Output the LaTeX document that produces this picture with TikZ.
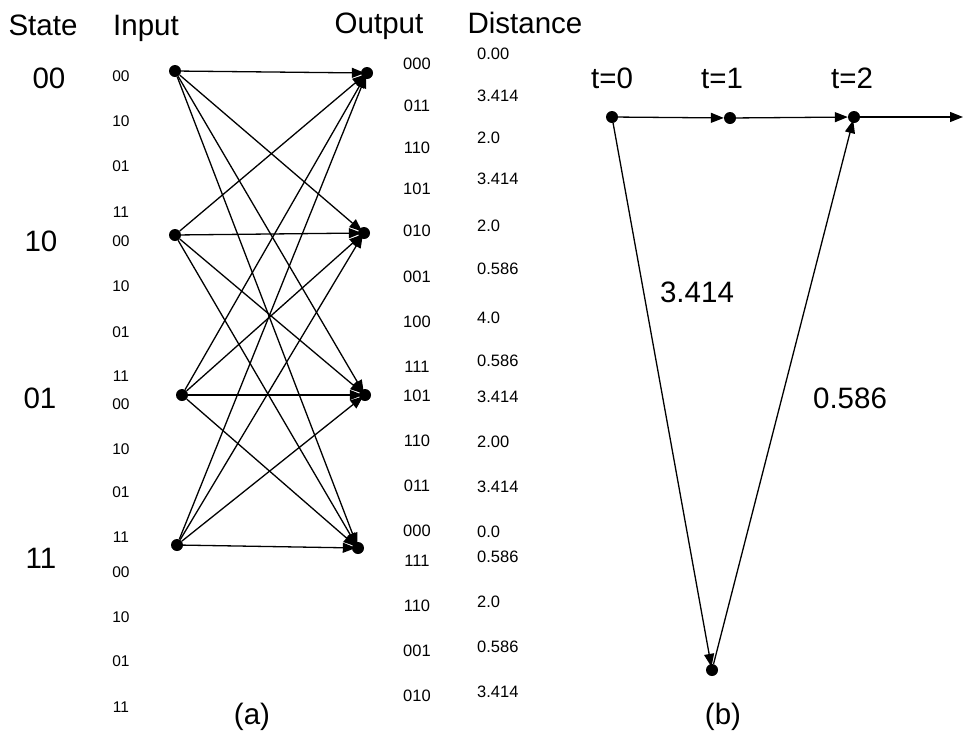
\documentclass[tikz,border=0pt]{standalone}
\usepackage{fontspec}
\setmainfont{Liberation Sans}
\usetikzlibrary{arrows.meta}
\begin{document}
\begin{tikzpicture}[x=1pt,y=-1pt,
  big/.style={font=\fontsize{29.5}{31}\selectfont, inner sep=0pt, anchor=base},
  inlab/.style={font=\fontsize{15.5}{17}\selectfont, inner sep=0pt, anchor=base},
  outlab/.style={font=\fontsize{16.5}{18}\selectfont, inner sep=0pt, anchor=base},
  distlab/.style={font=\fontsize{16.5}{18}\selectfont, inner sep=0pt, anchor=base west},
  dot/.style={circle, fill=black, inner sep=0pt, minimum size=12pt},
  arr/.style={line width=1.3pt, -{Triangle[length=13pt,width=10pt]}},
  tarr/.style={arr, shorten >=-4pt},
]
\useasboundingbox (0,0) rectangle (964,737);

% headers
\node[big] (hState) at (43,35) {State};
\node[big] (hInput) at (146,35) {Input};
\node[big] (hOutput) at (379,33) {Output};
\node[big] (hDist) at (525,33) {Distance};

% state labels
\node[big] (s00) at (49,88) {00};
\node[big] (s10) at (41,251) {10};
\node[big] (s01) at (40,408) {01};
\node[big] (s11) at (41,568) {11};

% input labels
\foreach \t/\y [count=\i] in {00/76,10/121,01/166,11/212,00/241,10/286,01/332,11/376,00/404,10/449,01/492,11/537,00/572,10/617,01/661,11/707}
  \node[inlab] (in\i) at (121,\y+5.6) {\t};

% output labels
\foreach \t/\y [count=\i] in {000/64,011/106,110/148,101/189,010/231,001/277,100/322,111/367,101/396,110/441,011/486,000/531,111/561,110/606,001/651,010/696}
  \node[outlab] (out\i) at (417,\y+5.9) {\t};

% distance labels
\foreach \t/\y [count=\i] in {0.00/54,3.414/96,2.0/138,3.414/179,2.0/226,0.586/269,4.0/318,0.586/361,3.414/397,2.00/442,3.414/487,0.0/532,0.586/557,2.0/602,0.586/647,3.414/692}
  \node[distlab] (d\i) at (477,\y+5.9) {\t};

% trellis nodes
\node[dot] (L00) at (175,71) {};
\node[dot] (L10) at (175,235) {};
\node[dot] (L01) at (182,395) {};
\node[dot] (L11) at (177,545) {};
\node[dot] (R00) at (367,73) {};
\node[dot] (R10) at (364,233) {};
\node[dot] (R01) at (365,395) {};
\node[dot] (R11) at (358,548) {};

\foreach \a in {L00,L10,L01,L11}
  \foreach \b in {R00,R10,R01,R11}
    \draw[tarr] (\a) -- (\b);

\node[big] (la) at (252,724) {(a)};

% right part
\node[big] (t0) at (612,88) {t=0};
\node[big] (t1) at (722,88) {t=1};
\node[big] (t2) at (852,88) {t=2};

\node[dot] (B0) at (612,117) {};
\node[dot] (B1) at (730,118) {};
\node[dot] (B2) at (854,117) {};
\node[dot] (B3) at (712,670) {};
\coordinate (E) at (963,117);

\draw[arr] (B0) -- (B1);
\draw[arr] (B1) -- (B2);
\draw[arr] (B2) -- (E);
\draw[arr, shorten >=-3pt] (B0) -- (B3);
\draw[arr, shorten >=-3pt] (B3) -- (B2);

\node[big] (w1) at (697,302) {3.414};
\node[big] (w2) at (850,408) {0.586};
\node[big] (lb) at (723,724) {(b)};
\end{tikzpicture}
\end{document}
